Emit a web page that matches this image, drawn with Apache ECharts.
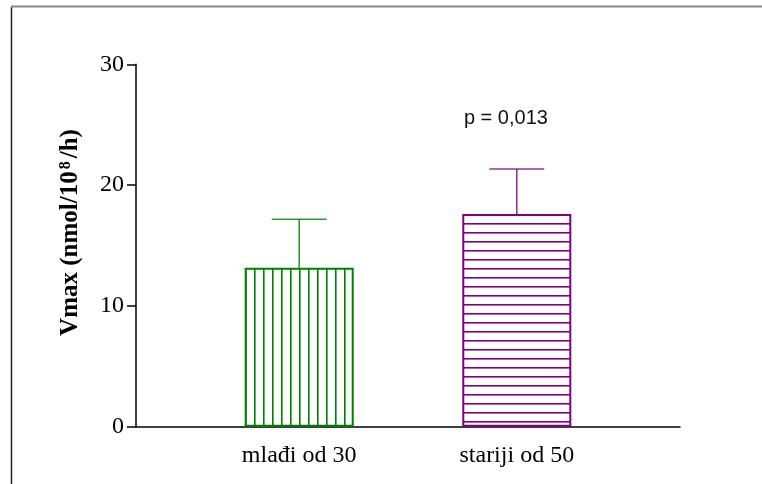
<!DOCTYPE html>
<html><head><meta charset="utf-8">
<script src="https://cdn.jsdelivr.net/npm/echarts@6/dist/echarts.min.js"></script>
<style>html,body{margin:0;padding:0;background:#fff}#c{width:762px;height:484px}</style>
</head><body><div id="c"></div>
<script>
const categories = ['mlađi od 30', 'stariji od 50'];
const categoryPos = [0.3, 0.7];
const means = [13.16, 17.6];
const errorTops = [17.17, 21.33];
const yTicks = [0, 10, 20, 30];
const annotationText = 'p = 0,013';
const annotationPos = [0.68, 25.5];
const colors = ['#008000', '#800080'];

function makePattern(color, vertical) {
  const c = document.createElement('canvas');
  c.width = 9; c.height = 9;
  const g = c.getContext('2d');
  g.fillStyle = '#fff'; g.fillRect(0, 0, 9, 9);
  g.fillStyle = color;
  if (vertical) g.fillRect(2, 0, 1.6, 9); else g.fillRect(0, 7, 9, 1.6);
  return { image: c, repeat: 'repeat' };
}

const chart = echarts.init(document.getElementById('c'), null, { renderer: 'canvas' });
const serif = 'Liberation Serif, Times New Roman, serif';
chart.setOption({
  animation: false,
  graphic: [
    { type: 'line', shape: { x1: 11.5, y1: 7, x2: 11.5, y2: 484 }, style: { stroke: '#222', lineWidth: 1.5 } },
    { type: 'line', shape: { x1: 11, y1: 6.5, x2: 762, y2: 6.5 }, style: { stroke: '#888', lineWidth: 2 } }
  ],
  grid: { left: 136, right: 82, top: 64.3, bottom: 57.3 },
  xAxis: {
    type: 'value', min: 0, max: 1,
    splitLine: { show: false },
    axisLine: { lineStyle: { color: '#000', width: 1.5 } },
    axisTick: { show: false },
    axisLabel: {
      customValues: categoryPos,
      formatter: v => { const i = categoryPos.findIndex(p => Math.abs(p - v) < 1e-6); return i >= 0 ? categories[i] : ''; },
      fontFamily: serif, fontSize: 24, color: '#000', margin: 17
    }
  },
  yAxis: {
    type: 'value', min: yTicks[0], max: yTicks[yTicks.length - 1], interval: 10,
    splitLine: { show: false },
    axisLine: { show: true, lineStyle: { color: '#000', width: 1.5 } },
    axisTick: { show: true, length: 9, lineStyle: { color: '#000', width: 1.5 } },
    axisLabel: { fontFamily: serif, fontSize: 24, color: '#000', margin: 12 },
    name: 'Vmax (nmol/10{sup|8}/h)',
    nameLocation: 'middle', nameGap: 52, nameRotate: 90,
    nameTextStyle: {
      fontFamily: serif, fontSize: 25, fontWeight: 'bold', color: '#000',
      padding: [0, 0, 0, 26],
      rich: { sup: { fontFamily: serif, fontSize: 16, fontWeight: 'bold', color: '#000', verticalAlign: 'top', padding: [0, 3, 10, 2] } }
    }
  },
  series: [
    {
      type: 'bar', barWidth: 109,
      data: means.map((m, i) => ({
        value: [categoryPos[i], m],
        itemStyle: { color: makePattern(colors[i], i === 0), borderColor: colors[i], borderWidth: 2 }
      })),
      z: 2
    },
    {
      type: 'custom',
      data: means.map((m, i) => [categoryPos[i], m, errorTops[i], i]),
      renderItem: (params, api) => {
        const x = api.value(0), i = api.value(3);
        const p0 = api.coord([x, api.value(1)]);
        const p1 = api.coord([x, api.value(2)]);
        const half = 27.5;
        const st = { stroke: colors[i], lineWidth: 1.6, opacity: 0.8 };
        return { type: 'group', children: [
          { type: 'line', shape: { x1: p0[0], y1: p0[1], x2: p1[0], y2: p1[1] }, style: st },
          { type: 'line', shape: { x1: p1[0] - half, y1: p1[1], x2: p1[0] + half, y2: p1[1] }, style: st }
        ] };
      },
      z: 3
    },
    {
      type: 'custom',
      data: [annotationPos],
      renderItem: (params, api) => {
        const p = api.coord([api.value(0), api.value(1)]);
        return { type: 'text', x: p[0], y: p[1], style: { text: annotationText, fontFamily: 'Liberation Sans, Arial, sans-serif', fontSize: 20, fill: '#111', align: 'center', verticalAlign: 'middle' } };
      },
      z: 4
    }
  ]
});
</script></body></html>
